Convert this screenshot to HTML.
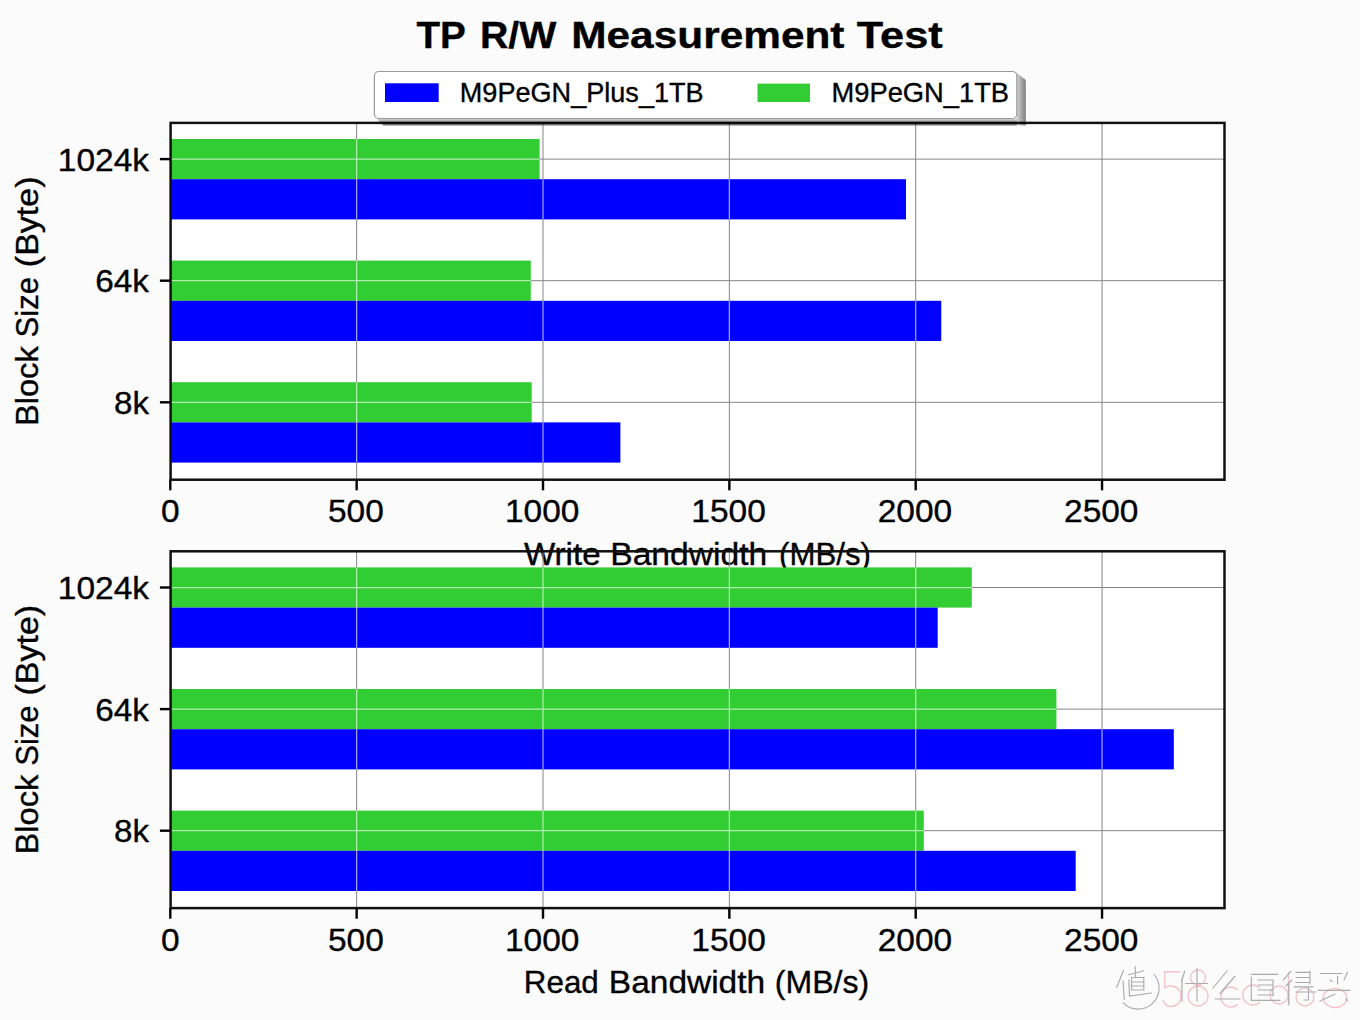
<!DOCTYPE html>
<html><head><meta charset="utf-8"><title>TP R/W Measurement Test</title>
<style>html,body{margin:0;padding:0;background:#fbfbfb;overflow:hidden}svg{display:block}</style></head>
<body><svg width="1360" height="1020" viewBox="0 0 1360 1020">
<rect x="0" y="0" width="1360" height="1020" fill="#fbfbfb"/>
<rect x="170.60" y="122.90" width="1053.90" height="356.80" fill="#fff"/>
<rect x="170.60" y="551.30" width="1053.90" height="356.80" fill="#fff"/>
<path d="M356.65,122.90 V479.70 M543.00,122.90 V479.70 M729.35,122.90 V479.70 M915.70,122.90 V479.70 M1102.05,122.90 V479.70 M170.60,159.10 H1224.50 M170.60,280.70 H1224.50 M170.60,402.30 H1224.50" stroke="#858585" stroke-width="1.0" fill="none"/>
<rect x="170.30" y="139.00" width="369.30" height="40.20" fill="#32cd32"/>
<rect x="170.30" y="179.20" width="735.70" height="40.20" fill="#0000ff"/>
<rect x="170.30" y="260.60" width="360.50" height="40.20" fill="#32cd32"/>
<rect x="170.30" y="300.80" width="770.95" height="40.20" fill="#0000ff"/>
<rect x="170.30" y="382.20" width="361.40" height="40.20" fill="#32cd32"/>
<rect x="170.30" y="422.40" width="450.10" height="40.20" fill="#0000ff"/>
<clipPath id="bars0"><rect x="170.30" y="139.00" width="369.30" height="40.20"/><rect x="170.30" y="179.20" width="735.70" height="40.20"/><rect x="170.30" y="260.60" width="360.50" height="40.20"/><rect x="170.30" y="300.80" width="770.95" height="40.20"/><rect x="170.30" y="382.20" width="361.40" height="40.20"/><rect x="170.30" y="422.40" width="450.10" height="40.20"/></clipPath>
<path d="M356.65,122.90 V479.70 M543.00,122.90 V479.70 M729.35,122.90 V479.70 M915.70,122.90 V479.70 M1102.05,122.90 V479.70 M170.60,159.10 H1224.50 M170.60,280.70 H1224.50 M170.60,402.30 H1224.50" stroke="#fff" stroke-opacity="0.62" stroke-width="1.25" fill="none" clip-path="url(#bars0)"/>
<rect x="170.60" y="122.90" width="1053.90" height="356.80" fill="none" stroke="#111" stroke-width="2.5"/>
<line x1="170.30" y1="479.70" x2="170.30" y2="490.30" stroke="#000" stroke-width="2.4"/>
<line x1="356.65" y1="479.70" x2="356.65" y2="490.30" stroke="#000" stroke-width="2.4"/>
<line x1="543.00" y1="479.70" x2="543.00" y2="490.30" stroke="#000" stroke-width="2.4"/>
<line x1="729.35" y1="479.70" x2="729.35" y2="490.30" stroke="#000" stroke-width="2.4"/>
<line x1="915.70" y1="479.70" x2="915.70" y2="490.30" stroke="#000" stroke-width="2.4"/>
<line x1="1102.05" y1="479.70" x2="1102.05" y2="490.30" stroke="#000" stroke-width="2.4"/>
<line x1="159.90" y1="159.10" x2="170.60" y2="159.10" stroke="#000" stroke-width="2.4"/>
<line x1="159.90" y1="280.70" x2="170.60" y2="280.70" stroke="#000" stroke-width="2.4"/>
<line x1="159.90" y1="402.30" x2="170.60" y2="402.30" stroke="#000" stroke-width="2.4"/>
<text x="170.30" y="522.30" text-anchor="middle" font-family="Liberation Sans, sans-serif" stroke="#000" stroke-width="0.35" font-size="32" textLength="18.59" lengthAdjust="spacingAndGlyphs">0</text>
<text x="355.85" y="522.30" text-anchor="middle" font-family="Liberation Sans, sans-serif" stroke="#000" stroke-width="0.35" font-size="32" textLength="55.78" lengthAdjust="spacingAndGlyphs">500</text>
<text x="542.20" y="522.30" text-anchor="middle" font-family="Liberation Sans, sans-serif" stroke="#000" stroke-width="0.35" font-size="32" textLength="74.37" lengthAdjust="spacingAndGlyphs">1000</text>
<text x="728.55" y="522.30" text-anchor="middle" font-family="Liberation Sans, sans-serif" stroke="#000" stroke-width="0.35" font-size="32" textLength="74.37" lengthAdjust="spacingAndGlyphs">1500</text>
<text x="914.90" y="522.30" text-anchor="middle" font-family="Liberation Sans, sans-serif" stroke="#000" stroke-width="0.35" font-size="32" textLength="74.37" lengthAdjust="spacingAndGlyphs">2000</text>
<text x="1101.25" y="522.30" text-anchor="middle" font-family="Liberation Sans, sans-serif" stroke="#000" stroke-width="0.35" font-size="32" textLength="74.37" lengthAdjust="spacingAndGlyphs">2500</text>
<text x="149.00" y="170.50" text-anchor="end" font-family="Liberation Sans, sans-serif" stroke="#000" stroke-width="0.35" font-size="32" textLength="91.20" lengthAdjust="spacingAndGlyphs">1024k</text>
<text x="149.00" y="292.10" text-anchor="end" font-family="Liberation Sans, sans-serif" stroke="#000" stroke-width="0.35" font-size="32" textLength="53.70" lengthAdjust="spacingAndGlyphs">64k</text>
<text x="149.00" y="413.70" text-anchor="end" font-family="Liberation Sans, sans-serif" stroke="#000" stroke-width="0.35" font-size="32" textLength="35.00" lengthAdjust="spacingAndGlyphs">8k</text>
<g transform="translate(38.2,0) rotate(-90)">
<text x="-426.11" y="0.00" font-family="Liberation Sans, sans-serif" stroke="#000" stroke-width="0.35" font-size="31" textLength="79.91" lengthAdjust="spacingAndGlyphs">Block</text>
<text x="-337.40" y="0.00" font-family="Liberation Sans, sans-serif" stroke="#000" stroke-width="0.35" font-size="31" textLength="60.42" lengthAdjust="spacingAndGlyphs">Size</text>
<text x="-267.19" y="0.00" font-family="Liberation Sans, sans-serif" stroke="#000" stroke-width="0.35" font-size="31" textLength="90.75" lengthAdjust="spacingAndGlyphs">(Byte)</text>
</g>
<text x="524.00" y="564.60" font-family="Liberation Sans, sans-serif" stroke="#000" stroke-width="0.35" font-size="32" textLength="76.51" lengthAdjust="spacingAndGlyphs">Write</text>
<text x="610.25" y="564.60" font-family="Liberation Sans, sans-serif" stroke="#000" stroke-width="0.35" font-size="32" textLength="156.96" lengthAdjust="spacingAndGlyphs">Bandwidth</text>
<text x="779.05" y="564.60" font-family="Liberation Sans, sans-serif" stroke="#000" stroke-width="0.35" font-size="32" textLength="91.85" lengthAdjust="spacingAndGlyphs">(MB/s)</text>
<path d="M356.65,551.30 V908.10 M543.00,551.30 V908.10 M729.35,551.30 V908.10 M915.70,551.30 V908.10 M1102.05,551.30 V908.10 M170.60,587.50 H1224.50 M170.60,709.10 H1224.50 M170.60,830.70 H1224.50" stroke="#858585" stroke-width="1.0" fill="none"/>
<rect x="170.30" y="567.40" width="801.50" height="40.20" fill="#32cd32"/>
<rect x="170.30" y="607.60" width="767.40" height="40.20" fill="#0000ff"/>
<rect x="170.30" y="689.00" width="886.10" height="40.20" fill="#32cd32"/>
<rect x="170.30" y="729.20" width="1003.50" height="40.20" fill="#0000ff"/>
<rect x="170.30" y="810.60" width="753.50" height="40.20" fill="#32cd32"/>
<rect x="170.30" y="850.80" width="905.40" height="40.20" fill="#0000ff"/>
<clipPath id="bars428"><rect x="170.30" y="567.40" width="801.50" height="40.20"/><rect x="170.30" y="607.60" width="767.40" height="40.20"/><rect x="170.30" y="689.00" width="886.10" height="40.20"/><rect x="170.30" y="729.20" width="1003.50" height="40.20"/><rect x="170.30" y="810.60" width="753.50" height="40.20"/><rect x="170.30" y="850.80" width="905.40" height="40.20"/></clipPath>
<path d="M356.65,551.30 V908.10 M543.00,551.30 V908.10 M729.35,551.30 V908.10 M915.70,551.30 V908.10 M1102.05,551.30 V908.10 M170.60,587.50 H1224.50 M170.60,709.10 H1224.50 M170.60,830.70 H1224.50" stroke="#fff" stroke-opacity="0.62" stroke-width="1.25" fill="none" clip-path="url(#bars428)"/>
<rect x="170.60" y="551.30" width="1053.90" height="356.80" fill="none" stroke="#111" stroke-width="2.5"/>
<line x1="170.30" y1="908.10" x2="170.30" y2="918.70" stroke="#000" stroke-width="2.4"/>
<line x1="356.65" y1="908.10" x2="356.65" y2="918.70" stroke="#000" stroke-width="2.4"/>
<line x1="543.00" y1="908.10" x2="543.00" y2="918.70" stroke="#000" stroke-width="2.4"/>
<line x1="729.35" y1="908.10" x2="729.35" y2="918.70" stroke="#000" stroke-width="2.4"/>
<line x1="915.70" y1="908.10" x2="915.70" y2="918.70" stroke="#000" stroke-width="2.4"/>
<line x1="1102.05" y1="908.10" x2="1102.05" y2="918.70" stroke="#000" stroke-width="2.4"/>
<line x1="159.90" y1="587.50" x2="170.60" y2="587.50" stroke="#000" stroke-width="2.4"/>
<line x1="159.90" y1="709.10" x2="170.60" y2="709.10" stroke="#000" stroke-width="2.4"/>
<line x1="159.90" y1="830.70" x2="170.60" y2="830.70" stroke="#000" stroke-width="2.4"/>
<text x="170.30" y="950.70" text-anchor="middle" font-family="Liberation Sans, sans-serif" stroke="#000" stroke-width="0.35" font-size="32" textLength="18.59" lengthAdjust="spacingAndGlyphs">0</text>
<text x="355.85" y="950.70" text-anchor="middle" font-family="Liberation Sans, sans-serif" stroke="#000" stroke-width="0.35" font-size="32" textLength="55.78" lengthAdjust="spacingAndGlyphs">500</text>
<text x="542.20" y="950.70" text-anchor="middle" font-family="Liberation Sans, sans-serif" stroke="#000" stroke-width="0.35" font-size="32" textLength="74.37" lengthAdjust="spacingAndGlyphs">1000</text>
<text x="728.55" y="950.70" text-anchor="middle" font-family="Liberation Sans, sans-serif" stroke="#000" stroke-width="0.35" font-size="32" textLength="74.37" lengthAdjust="spacingAndGlyphs">1500</text>
<text x="914.90" y="950.70" text-anchor="middle" font-family="Liberation Sans, sans-serif" stroke="#000" stroke-width="0.35" font-size="32" textLength="74.37" lengthAdjust="spacingAndGlyphs">2000</text>
<text x="1101.25" y="950.70" text-anchor="middle" font-family="Liberation Sans, sans-serif" stroke="#000" stroke-width="0.35" font-size="32" textLength="74.37" lengthAdjust="spacingAndGlyphs">2500</text>
<text x="149.00" y="598.90" text-anchor="end" font-family="Liberation Sans, sans-serif" stroke="#000" stroke-width="0.35" font-size="32" textLength="91.20" lengthAdjust="spacingAndGlyphs">1024k</text>
<text x="149.00" y="720.50" text-anchor="end" font-family="Liberation Sans, sans-serif" stroke="#000" stroke-width="0.35" font-size="32" textLength="53.70" lengthAdjust="spacingAndGlyphs">64k</text>
<text x="149.00" y="842.10" text-anchor="end" font-family="Liberation Sans, sans-serif" stroke="#000" stroke-width="0.35" font-size="32" textLength="35.00" lengthAdjust="spacingAndGlyphs">8k</text>
<g transform="translate(38.2,0) rotate(-90)">
<text x="-854.51" y="0.00" font-family="Liberation Sans, sans-serif" stroke="#000" stroke-width="0.35" font-size="31" textLength="79.91" lengthAdjust="spacingAndGlyphs">Block</text>
<text x="-765.80" y="0.00" font-family="Liberation Sans, sans-serif" stroke="#000" stroke-width="0.35" font-size="31" textLength="60.42" lengthAdjust="spacingAndGlyphs">Size</text>
<text x="-695.59" y="0.00" font-family="Liberation Sans, sans-serif" stroke="#000" stroke-width="0.35" font-size="31" textLength="90.75" lengthAdjust="spacingAndGlyphs">(Byte)</text>
</g>
<text x="523.86" y="992.60" font-family="Liberation Sans, sans-serif" stroke="#000" stroke-width="0.35" font-size="32" textLength="74.91" lengthAdjust="spacingAndGlyphs">Read</text>
<text x="608.86" y="992.60" font-family="Liberation Sans, sans-serif" stroke="#000" stroke-width="0.35" font-size="32" textLength="156.24" lengthAdjust="spacingAndGlyphs">Bandwidth</text>
<text x="774.80" y="992.60" font-family="Liberation Sans, sans-serif" stroke="#000" stroke-width="0.35" font-size="32" textLength="94.41" lengthAdjust="spacingAndGlyphs">(MB/s)</text>
<text x="416.50" y="47.70" font-family="Liberation Sans, sans-serif" stroke="#000" stroke-width="0.35" font-size="37.5" font-weight="bold" textLength="49.35" lengthAdjust="spacingAndGlyphs">TP</text>
<text x="479.90" y="47.70" font-family="Liberation Sans, sans-serif" stroke="#000" stroke-width="0.35" font-size="37.5" font-weight="bold" textLength="76.40" lengthAdjust="spacingAndGlyphs">R/W</text>
<text x="571.24" y="47.70" font-family="Liberation Sans, sans-serif" stroke="#000" stroke-width="0.35" font-size="37.5" font-weight="bold" textLength="273.23" lengthAdjust="spacingAndGlyphs">Measurement</text>
<text x="856.80" y="47.70" font-family="Liberation Sans, sans-serif" stroke="#000" stroke-width="0.35" font-size="37.5" font-weight="bold" textLength="85.88" lengthAdjust="spacingAndGlyphs">Test</text>
<defs><linearGradient id="shr" x1="0" x2="1" y1="0" y2="0"><stop offset="0" stop-color="#000" stop-opacity="0.12"/><stop offset="1" stop-color="#000" stop-opacity="0.5"/></linearGradient><linearGradient id="shb" x1="0" x2="0" y1="0" y2="1"><stop offset="0" stop-color="#000" stop-opacity="0.15"/><stop offset="1" stop-color="#000" stop-opacity="0.55"/></linearGradient></defs>
<path d="M1015.80,72.00 L1025.80,80.00 L1025.80,125.50 L1016.80,125.50 Z" fill="url(#shr)"/>
<path d="M376.40,118.50 L1016.80,118.50 L1016.80,125.50 L383.40,125.50 Z" fill="url(#shb)"/>
<rect x="374.40" y="71.50" width="642.40" height="47.00" rx="4.5" fill="#fff" stroke="#999" stroke-width="1.2"/>
<rect x="385" y="83.3" width="53.7" height="18.7" fill="#0000ff"/>
<rect x="757.5" y="83.6" width="52.5" height="18.4" fill="#32cd32"/>
<text x="459.8" y="101.8" font-family="Liberation Sans, sans-serif" stroke="#000" stroke-width="0.35" font-size="27.5" textLength="243.8" lengthAdjust="spacingAndGlyphs">M9PeGN_Plus_1TB</text>
<text x="831.5" y="101.8" font-family="Liberation Sans, sans-serif" stroke="#000" stroke-width="0.35" font-size="27.5" textLength="177.6" lengthAdjust="spacingAndGlyphs">M9PeGN_1TB</text>
<path d="M1180.6,971.8 H1164.7 V988 C1170,984 1181,986 1181,996 C1181,1003 1176,1006.5 1171,1006.5 C1167,1006.5 1164,1004 1163,1000 M1205.5,977.5 A7.5,7.5 0 1 0 1190.5,977.5 A7.5,7.5 0 1 0 1205.5,977.5 M1208,996 A10,10 0 1 0 1188,996 A10,10 0 1 0 1208,996 M1238,990 A10,10 0 1 0 1238,1004 M1260,988 A10,10 0 1 0 1260,1002 M1288,995 A9,9 0 1 0 1270,995 A9,9 0 1 0 1288,995 M1288.5,972 V1005 M1314,997 A9,9 0 1 0 1296,997 A9,9 0 1 0 1314,997 M1345,993 A10,8 0 1 0 1325,1003 A10,8 0 1 0 1345,993" fill="none" stroke="#f3c4ce" stroke-width="1.4"/>
<path d="M1123.6,970.3 L1116.7,987.3 M1123,981 L1124.3,999.5 M1128.5,974.7 L1143.8,970.8 M1135.2,966.7 L1135.5,977 M1131.5,977.5 H1143.8 V990 H1131.5 Z M1131.5,982 H1143.8 M1131.5,986 H1143.8 M1128.8,980 L1129.5,996 L1151.5,993 M1154.1,974.5 A21,21 0 0 1 1123.2,1002.9 M1184.7,971 L1181.5,982 M1182,978 V1001.5 M1185.6,983.5 H1207.6 M1197,968 V1001 M1227,971 L1213,988 M1234.7,976.5 L1220,993.5 M1215,999 H1240 M1251.3,974.3 H1278 M1251.3,977 V1000.3 H1280 M1258,980 H1273 V996 M1258,985 H1273 M1258,990 H1273 M1258,995 H1273 M1291,971.2 L1283.5,979.9 M1291.7,980 L1286,986 M1288.8,984 V1005 M1296,972.4 H1310 M1296,977.5 H1310 M1296,982.5 H1310 M1310,971 V984 M1294,986.8 H1313 M1296,992 H1316 M1308.5,988 V1000 L1304,1000 M1320,973.5 H1342 M1347.6,972 L1344,980 M1337.6,976 V984 M1330,980 L1332,981.5 M1318,990.4 H1350 M1335,994 L1320,1001 M1346,999 L1347.5,1000.5" fill="none" stroke="#ababab" stroke-width="1.15" stroke-linecap="round"/>
</svg></body></html>
